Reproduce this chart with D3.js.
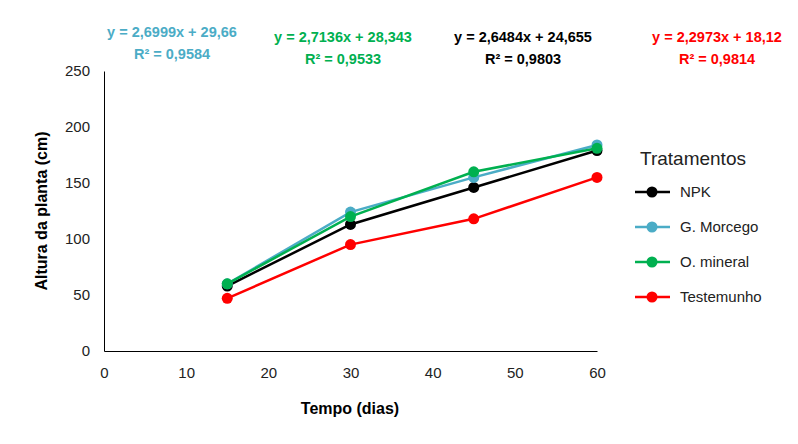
<!DOCTYPE html><html><head><meta charset="utf-8">
<script src="https://cdn.jsdelivr.net/npm/d3@7"></script>
<style>body{margin:0;background:#fff}text{font-family:"Liberation Sans",Arial,sans-serif}</style></head><body>
<svg id="c" width="798" height="444"></svg>
<script>
const days=[15,30,45,60];
const seriesNames=["NPK","G. Morcego","O. mineral","Testemunho"];
const colors=["#000000","#4BACC6","#00B050","#FF0000"];
const npk=[58,113,146,179];
const morcego=[60,124,155,184];
const mineral=[60,120,160,181];
const testemunho=[47,95,118,155];
const values=[npk,morcego,mineral,testemunho];
const eqs=["y = 2,6484x + 24,655","y = 2,6999x + 29,66","y = 2,7136x + 28,343","y = 2,2973x + 18,12"];
const r2=["R² = 0,9803","R² = 0,9584","R² = 0,9533","R² = 0,9814"];
const eqPos=[[523,42],[172,37],[343,42],[717,42]];
const xTicks=[0,10,20,30,40,50,60], yTicks=[0,50,100,150,200,250];
const svg=d3.select("#c");
const x=d3.scaleLinear().domain([0,60]).range([104,597]);
const y=d3.scaleLinear().domain([0,250]).range([351,71]);
svg.append("g").attr("transform","translate(0,351)").call(d3.axisBottom(x).tickValues(xTicks).tickSize(0).tickPadding(16))
 .call(g=>{g.select(".domain").attr("stroke","#000");g.selectAll("text").attr("font-size",15).attr("fill","#222");});
svg.append("g").attr("transform","translate(104,0)").call(d3.axisLeft(y).tickValues(yTicks).tickSize(0).tickPadding(14))
 .call(g=>{g.select(".domain").attr("stroke","#000");g.selectAll("text").attr("font-size",15).attr("fill","#222");});
svg.append("text").attr("x",350).attr("y",414).attr("text-anchor","middle").attr("font-size",16).attr("font-weight","bold").text("Tempo (dias)");
svg.append("text").attr("transform","translate(47,211) rotate(-90)").attr("text-anchor","middle").attr("font-size",16).attr("font-weight","bold").text("Altura da planta (cm)");
const line=d3.line().x((d,i)=>x(days[i])).y(d=>y(d));
values.forEach((v,k)=>{
 svg.append("path").attr("d",line(v)).attr("fill","none").attr("stroke",colors[k]).attr("stroke-width",2.5);
 svg.selectAll(null).data(v).enter().append("circle").attr("cx",(d,i)=>x(days[i])).attr("cy",d=>y(d)).attr("r",5.5).attr("fill",colors[k]);
 const [ex,ey]=eqPos[k];
 svg.append("text").attr("x",ex).attr("y",ey).attr("text-anchor","middle").attr("font-size",14.5).attr("font-weight","bold").attr("fill",colors[k]).text(eqs[k]);
 svg.append("text").attr("x",ex).attr("y",ey+22).attr("text-anchor","middle").attr("font-size",14.5).attr("font-weight","bold").attr("fill",colors[k]).text(r2[k]);
 const ly=192+k*35;
 svg.append("line").attr("x1",635).attr("x2",670).attr("y1",ly).attr("y2",ly).attr("stroke",colors[k]).attr("stroke-width",2.5);
 svg.append("circle").attr("cx",652).attr("cy",ly).attr("r",5.5).attr("fill",colors[k]);
 svg.append("text").attr("x",680).attr("y",ly+5).attr("font-size",15).attr("fill","#222").text(seriesNames[k]);
});
svg.append("text").attr("x",640).attr("y",165).attr("font-size",19).attr("fill","#222").text("Tratamentos");
</script></body></html>
